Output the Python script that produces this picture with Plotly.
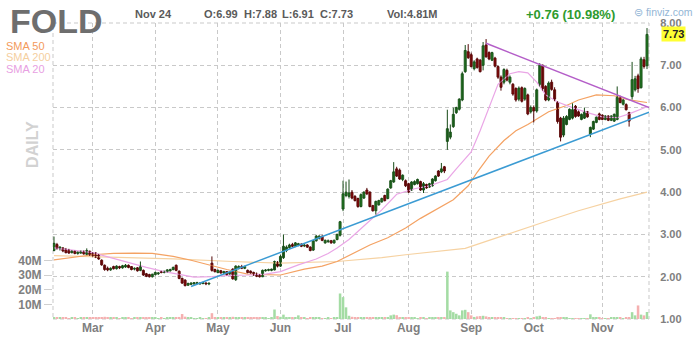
import plotly.graph_objects as go
import pandas as pd

# ---------------- data ----------------
holidays = ["2014-02-17", "2014-04-18", "2014-05-26", "2014-07-04", "2014-09-01"]
dates = [d for d in pd.bdate_range("2014-02-11", "2014-11-24") if d.strftime("%Y-%m-%d") not in holidays]

opens = [
    # Feb
    2.62, 2.76, 2.67, 2.68, 2.64, 2.62, 2.57, 2.60, 2.55, 2.56, 2.60, 2.53, 2.60,
    # Mar
    2.55, 2.56, 2.52, 2.39, 2.27, 2.20, 2.16, 2.24, 2.19, 2.24, 2.21, 2.23, 2.27, 2.24, 2.18, 2.21, 2.15, 2.15, 2.07, 2.05, 2.00,
    # Apr
    2.05, 2.07, 2.12, 2.10, 2.12, 2.14, 2.17, 2.27, 2.13, 1.96, 1.92, 1.80, 1.82, 1.83, 1.84, 1.83, 1.84, 1.85, 1.83, 2.32, 2.17,
    # May
    2.10, 2.14, 2.09, 2.12, 2.07, 2.18, 1.93, 2.20, 2.24, 2.20, 2.15, 2.13, 2.10, 2.06, 2.03, 2.00, 2.14, 2.15, 2.15, 2.16, 2.34,
    # Jun
    2.25, 2.45, 2.62, 2.69, 2.76, 2.72, 2.75, 2.77, 2.73, 2.75, 2.70, 2.63, 2.85, 2.91, 2.95, 2.80, 2.83, 2.85, 2.80, 2.88, 2.98,
    # Jul
    3.60, 3.92, 3.90, 4.00, 3.90, 3.85, 3.66, 3.86, 4.05, 4.00, 3.68, 3.56, 3.70, 3.77, 3.92, 3.85, 4.10, 4.24, 4.55, 4.52, 4.30, 4.27,
    # Aug
    4.20, 4.05, 4.18, 4.20, 4.25, 4.05, 4.18, 4.12, 4.15, 4.27, 4.50, 4.48, 4.60, 5.20, 5.30, 5.55, 5.88, 5.96, 6.18, 6.85, 7.32,
    # Sep
    7.25, 6.92, 7.15, 7.12, 7.00, 7.48, 7.30, 7.12, 7.17, 6.97, 6.72, 6.60, 6.88, 6.60, 6.55, 6.45, 6.20, 6.47, 6.20, 6.30, 5.90,
    # Oct
    6.00, 5.92, 6.55, 7.00, 6.50, 6.18, 6.60, 6.42, 6.12, 5.75, 5.35, 5.60, 5.72, 5.75, 6.03, 5.90, 5.72, 5.75, 5.90, 5.37, 5.49, 5.65, 5.85,
    # Nov
    5.82, 5.72, 5.80, 5.70, 5.68, 5.72, 6.24, 6.08, 6.07, 5.88, 6.26, 6.42, 6.75, 6.47, 7.13, 6.99,
]
highs = [
    2.95, 2.80, 2.72, 2.70, 2.68, 2.66, 2.63, 2.62, 2.60, 2.62, 2.62, 2.67, 2.62,
    2.58, 2.58, 2.54, 2.41, 2.29, 2.24, 2.22, 2.26, 2.27, 2.26, 2.28, 2.30, 2.29, 2.25, 2.22, 2.23, 2.36, 2.17, 2.09, 2.07, 2.07,
    2.12, 2.11, 2.14, 2.14, 2.18, 2.19, 2.24, 2.29, 2.15, 1.98, 1.94, 1.86, 1.87, 1.87, 1.88, 1.87, 1.88, 1.87, 1.86, 2.48, 2.19,
    2.17, 2.16, 2.14, 2.13, 2.12, 2.20, 2.27, 2.27, 2.28, 2.26, 2.17, 2.15, 2.12, 2.10, 2.06, 2.17, 2.18, 2.19, 2.19, 2.38, 2.37,
    2.52, 3.00, 2.74, 2.78, 2.80, 2.82, 2.80, 2.79, 2.77, 2.77, 2.72, 2.87, 2.99, 2.98, 2.99, 2.88, 2.88, 2.87, 2.88, 3.02, 3.32,
    4.27, 4.25, 4.30, 4.05, 3.93, 3.87, 3.97, 4.02, 4.10, 4.02, 3.70, 3.80, 3.82, 3.87, 3.94, 4.09, 4.29, 4.71, 4.60, 4.56, 4.42, 4.30,
    4.22, 4.26, 4.28, 4.32, 4.27, 4.24, 4.20, 4.22, 4.33, 4.40, 4.52, 4.69, 4.62, 5.95, 5.60, 6.00, 6.02, 6.22, 6.85, 7.48, 7.50,
    7.30, 7.12, 7.18, 7.15, 7.55, 7.62, 7.33, 7.32, 7.20, 7.00, 6.76, 6.93, 6.92, 6.76, 6.58, 6.48, 6.50, 6.50, 6.48, 6.33, 6.05,
    6.05, 6.45, 7.05, 7.02, 6.53, 6.62, 6.66, 6.48, 6.15, 5.78, 5.80, 5.82, 5.98, 6.10, 6.06, 5.93, 5.86, 6.00, 5.92, 5.55, 5.69, 5.79, 5.88,
    5.84, 5.82, 5.82, 5.82, 5.86, 6.50, 6.28, 6.20, 6.10, 5.90, 7.08, 6.75, 6.80, 7.20, 7.20, 7.88,
]
lows = [
    2.60, 2.64, 2.62, 2.58, 2.55, 2.54, 2.55, 2.53, 2.52, 2.54, 2.52, 2.51, 2.49,
    2.47, 2.44, 2.40, 2.26, 2.14, 2.13, 2.14, 2.17, 2.17, 2.18, 2.19, 2.21, 2.20, 2.15, 2.15, 2.12, 2.13, 2.02, 1.99, 1.98, 1.98,
    2.03, 2.04, 2.08, 2.08, 2.10, 2.12, 2.15, 2.13, 1.94, 1.83, 1.77, 1.78, 1.80, 1.81, 1.82, 1.81, 1.82, 1.80, 1.80, 2.12, 2.10,
    2.08, 2.07, 2.05, 2.03, 2.04, 1.93, 1.90, 2.17, 2.18, 2.18, 2.08, 2.07, 2.02, 1.99, 1.98, 1.99, 2.12, 2.13, 2.13, 2.15, 2.22,
    2.23, 2.42, 2.58, 2.66, 2.70, 2.70, 2.72, 2.70, 2.70, 2.68, 2.60, 2.61, 2.83, 2.88, 2.84, 2.78, 2.80, 2.78, 2.78, 2.86, 2.95,
    3.55, 3.88, 3.85, 3.83, 3.78, 3.63, 3.64, 3.84, 3.93, 3.64, 3.54, 3.47, 3.68, 3.75, 3.78, 3.83, 4.08, 4.22, 4.36, 4.29, 4.26, 4.12,
    3.98, 4.03, 4.16, 4.18, 4.03, 3.98, 4.08, 4.10, 4.13, 4.25, 4.36, 4.45, 4.45, 5.00, 5.25, 5.52, 5.85, 5.93, 6.15, 6.82, 7.15,
    6.95, 6.88, 6.92, 6.83, 6.88, 7.18, 7.12, 7.10, 6.95, 6.68, 6.40, 6.55, 6.62, 6.55, 6.28, 6.14, 6.15, 6.12, 6.16, 5.82, 5.86,
    5.65, 5.88, 6.50, 6.40, 6.15, 6.15, 6.40, 6.15, 5.62, 5.20, 5.30, 5.58, 5.70, 5.72, 5.76, 5.78, 5.70, 5.73, 5.76, 5.30, 5.47, 5.63, 5.70,
    5.70, 5.70, 5.68, 5.68, 5.66, 5.70, 6.10, 6.05, 5.93, 5.55, 6.19, 6.38, 6.35, 6.45, 6.92, 6.91,
]
closes = [
    2.79, 2.67, 2.70, 2.61, 2.57, 2.56, 2.60, 2.55, 2.58, 2.60, 2.54, 2.62, 2.52,
    2.50, 2.46, 2.42, 2.28, 2.17, 2.16, 2.20, 2.19, 2.25, 2.21, 2.26, 2.27, 2.22, 2.17, 2.20, 2.14, 2.24, 2.04, 2.01, 2.00, 2.06,
    2.10, 2.09, 2.10, 2.13, 2.16, 2.17, 2.22, 2.15, 1.96, 1.85, 1.79, 1.84, 1.85, 1.86, 1.86, 1.85, 1.86, 1.83, 1.85, 2.15, 2.12,
    2.15, 2.09, 2.12, 2.05, 2.10, 1.95, 2.25, 2.24, 2.20, 2.24, 2.10, 2.09, 2.04, 2.01, 2.00, 2.15, 2.16, 2.17, 2.18, 2.36, 2.25,
    2.48, 2.72, 2.70, 2.75, 2.72, 2.80, 2.78, 2.72, 2.75, 2.70, 2.62, 2.85, 2.96, 2.96, 2.86, 2.86, 2.85, 2.80, 2.86, 3.00, 3.30,
    3.96, 4.00, 3.98, 3.86, 3.80, 3.66, 3.94, 4.00, 3.96, 3.66, 3.56, 3.78, 3.80, 3.85, 3.80, 4.07, 4.27, 4.48, 4.38, 4.31, 4.40, 4.15,
    4.00, 4.24, 4.25, 4.30, 4.05, 4.20, 4.10, 4.20, 4.31, 4.38, 4.38, 4.55, 4.50, 5.50, 5.42, 5.84, 6.00, 6.20, 6.80, 7.35, 7.18,
    6.97, 7.08, 6.95, 6.85, 7.46, 7.20, 7.15, 7.30, 6.98, 6.72, 6.48, 6.90, 6.65, 6.72, 6.32, 6.18, 6.46, 6.15, 6.45, 5.85, 6.00,
    5.92, 6.42, 7.00, 6.45, 6.18, 6.58, 6.43, 6.20, 5.67, 5.30, 5.75, 5.79, 5.96, 5.95, 5.79, 5.80, 5.84, 5.90, 5.78, 5.53, 5.67, 5.77, 5.72,
    5.72, 5.80, 5.70, 5.80, 5.84, 6.24, 6.12, 6.18, 5.95, 5.68, 6.66, 6.68, 6.45, 7.15, 6.97, 7.73,
]
volumes_m = [
    1.2, 0.9, 0.8, 0.7, 0.8, 0.6, 0.7, 0.8, 0.6, 0.7, 0.8, 1.0, 0.7,
    0.8, 0.9, 1.0, 1.3, 1.5, 0.9, 0.7, 0.8, 0.7, 0.6, 0.7, 0.8, 0.7, 0.6, 0.7, 0.9, 0.8, 1.2, 0.9, 0.8, 0.7,
    0.7, 0.6, 0.7, 0.6, 0.8, 0.7, 0.9, 1.0, 1.4, 3.4, 1.6, 0.9, 0.7, 0.6, 0.6, 0.7, 0.6, 0.6, 0.7, 4.0, 1.3,
    0.9, 0.8, 0.7, 0.8, 0.7, 1.5, 1.2, 0.8, 0.7, 0.7, 0.8, 0.7, 0.8, 0.9, 0.8, 1.0, 0.7, 0.6, 0.7, 6.5, 2.0,
    1.5, 3.0, 1.2, 0.9, 0.7, 0.8, 2.5, 0.8, 0.7, 0.6, 0.8, 1.0, 0.9, 0.7, 0.6, 0.6, 0.7, 0.6, 0.8, 1.2, 17.5,
    15.0, 8.0, 2.2, 1.5, 1.0, 1.2, 1.0, 0.9, 0.8, 1.2, 1.0, 0.9, 0.8, 0.7, 0.8, 1.2, 2.5, 3.0, 2.6, 1.2, 0.9, 0.8,
    0.8, 0.9, 0.7, 0.6, 0.7, 0.8, 0.6, 1.2, 0.8, 0.9, 0.8, 1.0, 0.9, 32.5, 5.9, 4.7, 3.6, 2.5, 5.9, 6.3, 4.7,
    2.5, 1.4, 1.8, 2.0, 2.2, 1.8, 1.0, 1.0, 1.1, 0.9, 1.2, 0.8, 0.6, 0.6, 0.5, 0.6, 0.5, 0.5, 0.6, 0.9, 0.6,
    0.8, 1.8, 2.2, 1.0, 0.7, 0.6, 0.5, 0.6, 0.9, 1.2, 1.0, 0.7, 0.6, 0.5, 0.5, 0.6, 0.5, 0.6, 0.5, 3.2, 1.2, 0.8, 0.7,
    0.6, 0.5, 0.6, 0.7, 1.0, 1.2, 0.8, 0.6, 0.7, 1.0, 4.7, 2.5, 9.3, 3.0, 2.5, 4.81,
]

# moving averages, read at sample points (trading-day index, price)
sma20_idx = [0, 7, 13, 19, 25, 31, 37, 43, 47, 53, 59, 65, 71, 76, 82, 88, 92, 95, 99, 104, 110, 115, 121, 126, 132,
             135, 140, 143, 146, 149, 153, 156, 159, 162, 165, 169, 174, 179, 184, 189, 193, 199]
sma20_val = [2.68, 2.63, 2.57, 2.45, 2.33, 2.22, 2.12, 2.04, 1.99, 2.00, 2.03, 2.04, 2.06, 2.12, 2.28, 2.42, 2.55, 2.68,
             2.88, 3.20, 3.58, 3.95, 4.08, 4.15, 4.30, 4.55, 4.95, 5.45, 6.00, 6.55, 6.80, 6.85, 6.82, 6.60, 6.30, 6.13,
             6.00, 5.88, 5.78, 5.76, 5.85, 6.02]
sma50_idx = [0, 6, 13, 20, 27, 33, 40, 46, 52, 58, 65, 71, 76, 84, 90, 95, 101, 106, 112, 118, 123, 129, 134, 139, 142,
             146, 151, 155, 159, 166, 172, 176, 182, 188, 193, 199]
sma50_val = [2.40, 2.46, 2.52, 2.55, 2.56, 2.55, 2.48, 2.39, 2.28, 2.17, 2.06, 2.04, 2.04, 2.18, 2.25, 2.36, 2.58, 2.75,
             2.92, 3.15, 3.38, 3.62, 3.82, 4.15, 4.47, 4.85, 5.22, 5.45, 5.60, 5.90, 6.05, 6.18, 6.30, 6.28, 6.18, 6.12]
sma200_idx = [0, 20, 40, 60, 76, 95, 110, 118, 126, 132, 138, 146, 156, 166, 176, 182, 190, 199]
sma200_val = [2.50, 2.46, 2.42, 2.36, 2.32, 2.36, 2.45, 2.52, 2.58, 2.62, 2.67, 2.86, 3.10, 3.33, 3.56, 3.68, 3.84, 4.00]

# trendlines drawn on the chart (index, price)
support_idx = [46, 199.7]
support_val = [1.77, 5.89]
resist_idx = [145, 199.7]
resist_val = [7.52, 6.00]

price_ticks = [1, 2, 3, 4, 5, 6, 7, 8]
vol_ticks_m = [10, 20, 30, 40]

# ---------------- figure ----------------
n = len(closes)
idx = list(range(n))
month_pos, month_lbl = [], []
for i in range(1, n):
    if dates[i].month != dates[i - 1].month:
        month_pos.append(i)
        month_lbl.append(dates[i].strftime("%b"))

W, H = 694, 347
L, R, T, B = 53, 41, 23, 25
PW, PH = W - L - R, H - T - B


def px2x(px):
    return (px - L) / PW


def py2y(py):
    return (H - B - py) / PH


GRID = "#c9c9c9"
GRAY = "#808080"
FONT = "Liberation Sans, Arial, sans-serif"
UP_FILL, UP_LINE = "#2fb42f", "#174a17"
DN_FILL, DN_LINE = "#c81414", "#520606"

fig = go.Figure()

up = [c >= o for o, c in zip(opens, closes)]
vol_colors = ["#a4dca4" if u else "#f5b0b0" for u in up]
fig.add_trace(go.Bar(x=idx, y=[v * 1e6 for v in volumes_m], marker=dict(color=vol_colors, line=dict(width=0)),
                     width=0.85, yaxis="y", xaxis="x", hoverinfo="skip"))

fig.add_trace(go.Scatter(x=sma200_idx, y=sma200_val, mode="lines", yaxis="y2",
                         line=dict(color="#f6d2a2", width=1.2), hoverinfo="skip"))
fig.add_trace(go.Scatter(x=sma50_idx, y=sma50_val, mode="lines", yaxis="y2",
                         line=dict(color="#f4a263", width=1.2), hoverinfo="skip"))
fig.add_trace(go.Scatter(x=sma20_idx, y=sma20_val, mode="lines", yaxis="y2",
                         line=dict(color="#eaa6e6", width=1.2), hoverinfo="skip"))

# wicks
for flag, col in ((True, UP_LINE), (False, DN_LINE)):
    wx, wy = [], []
    for i in idx:
        if up[i] == flag:
            wx += [i, i, None]
            wy += [lows[i], highs[i], None]
    fig.add_trace(go.Scatter(x=wx, y=wy, mode="lines", yaxis="y2", line=dict(color=col, width=1),
                             hoverinfo="skip"))

# bodies
body_base = [min(o, c) for o, c in zip(opens, closes)]
body_h = [max(abs(c - o), 0.012) for o, c in zip(opens, closes)]
fig.add_trace(go.Bar(x=idx, y=body_h, base=body_base, yaxis="y2", width=0.68,
                     marker=dict(color=[UP_FILL if u else DN_FILL for u in up],
                                 line=dict(color=[UP_LINE if u else DN_LINE for u in up], width=0.9)),
                     hoverinfo="skip"))

fig.add_trace(go.Scatter(x=support_idx, y=support_val, mode="lines", yaxis="y2",
                         line=dict(color="#3b9bd3", width=1.5), hoverinfo="skip"))
fig.add_trace(go.Scatter(x=resist_idx, y=resist_val, mode="lines", yaxis="y2",
                         line=dict(color="#b45ec8", width=1.5), hoverinfo="skip"))

fig.update_layout(
    width=W, height=H, margin=dict(l=L, r=R, t=T, b=B),
    paper_bgcolor="white", plot_bgcolor="white", showlegend=False, barmode="overlay",
    font=dict(family=FONT, color=GRAY),
    xaxis=dict(range=[-0.33, n - 0.33], tickvals=month_pos, ticktext=month_lbl, showgrid=True,
               gridcolor=GRID, griddash="4px,3px", gridwidth=1, zeroline=False, ticks="",
               tickfont=dict(size=12, color=GRAY, family=FONT, weight="bold"), fixedrange=True),
    yaxis=dict(range=[0, 203e6], side="left", tickvals=[v * 1e6 for v in vol_ticks_m],
               ticktext=[f"{v}M" for v in vol_ticks_m], showgrid=False, zeroline=False,
               ticks="outside", ticklen=8, tickcolor="#d0d0d0",
               tickfont=dict(size=12, color=GRAY, family=FONT, weight="bold")),
    yaxis2=dict(range=[1, 8], overlaying="y", side="right", tickvals=price_ticks,
                ticktext=[f"{v:.2f}" for v in price_ticks], showgrid=True, gridcolor=GRID,
                griddash="4px,3px", zeroline=False, ticks="outside", ticklen=8,
                tickcolor="rgba(0,0,0,0)",
                tickfont=dict(size=11, color=GRAY, family=FONT, weight="bold")),
)

# dashed plot border
fig.add_shape(type="rect", xref="paper", yref="paper", x0=0, x1=1, y0=0, y1=1,
              line=dict(color=GRID, width=1, dash="4px,3px"), layer="below")

ann = []


def text(px, py, s, size, color, anchor="left", bold=True, **kw):
    ann.append(dict(x=px2x(px), y=py2y(py), xref="paper", yref="paper", text=s, showarrow=False,
                    xanchor=anchor, yanchor="middle",
                    font=dict(size=size, color=color, family=FONT, weight="bold" if bold else "normal"), **kw))


text(8, 21, "FOLD", 34, "#6e6e6e")
text(134, 14, "Nov 24", 11, "#5a5a5a")
text(203, 14, "O:6.99", 11, "#5a5a5a")
text(243, 14, "H:7.88", 11, "#5a5a5a")
text(282, 14, "L:6.91", 11, "#5a5a5a")
text(320, 14, "C:7.73", 11, "#5a5a5a")
text(387, 14, "Vol:4.81M", 11, "#5a5a5a")
text(527, 14, "+0.76 (10.98%)", 13, "#2e9b2e")
text(636, 12, "⊜ finviz.com", 10.5, "#93b6d6", bold=False)
text(4, 46, "SMA 50", 11, "#f39a5c", bold=False)
text(4, 57.5, "SMA 200", 11, "#f5cf9f", bold=False)
text(4, 69, "SMA 20", 11, "#e8a0e2", bold=False)
text(33, 146, "DAILY", 16, "#d2d2d2", anchor="center", textangle=-90)

ann.append(dict(x=px2x(678), y=closes[-1], xref="paper", yref="y2", text=f"{closes[-1]:.2f}", showarrow=False,
                xanchor="center", yanchor="middle", bgcolor="#ffff33", borderpad=1,
                font=dict(size=11, color="#222222", family=FONT, weight="bold")))

fig.update_layout(annotations=ann)
fig.write_html("out.html")
